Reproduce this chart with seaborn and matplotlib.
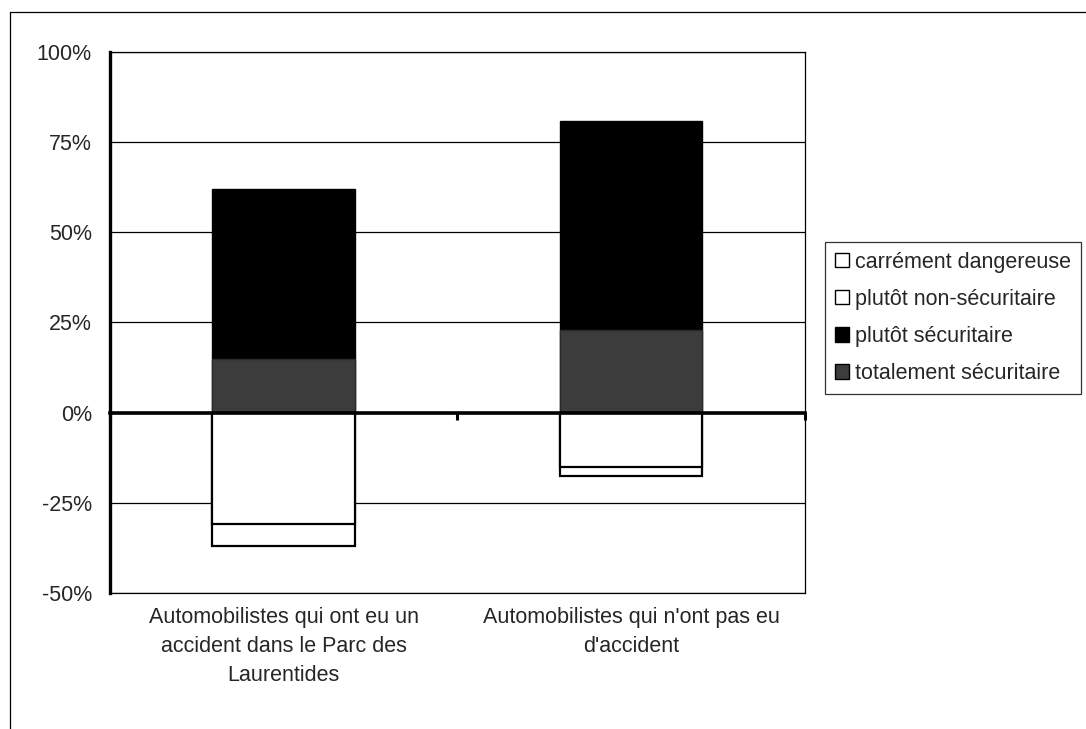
import pandas as pd
import matplotlib
matplotlib.use('Agg')
import matplotlib.pyplot as plt
from matplotlib.patches import Patch
from matplotlib.lines import Line2D
import seaborn as sns

# data (percent)
groups = ["Automobilistes qui ont eu un\naccident dans le Parc des\nLaurentides",
          "Automobilistes qui n'ont pas eu\nd'accident"]
totalement_securitaire = [15, 23]
plutot_securitaire = [47, 58]
plutot_non_securitaire = [-31, -15]
carrement_dangereuse = [-6, -2.5]
y_ticks = [-50, -25, 0, 25, 50, 75, 100]

sns.set_style("white")
plt.rcParams['font.family'] = ['Liberation Sans', 'DejaVu Sans']

df = pd.DataFrame({
    'groupe': groups,
    'tot': totalement_securitaire,
    'pos_total': [a + b for a, b in zip(totalement_securitaire, plutot_securitaire)],
    'nonsec': plutot_non_securitaire,
    'neg_total': [a + b for a, b in zip(plutot_non_securitaire, carrement_dangereuse)],
})

fig = plt.figure(figsize=(10.86, 7.29), dpi=100)
ax = fig.add_axes([0.1013, 0.1866, 0.6397, 0.7421])

for yv in y_ticks:
    ax.axhline(yv, color='black', lw=0.9, zorder=0)

w = 0.41
gray = '#3c3c3c'
# stacked by overdrawing cumulative totals
sns.barplot(data=df, x='groupe', y='pos_total', color='black', width=w,
            edgecolor='black', linewidth=1, saturation=1, ax=ax, zorder=2)
sns.barplot(data=df, x='groupe', y='tot', color=gray, width=w,
            edgecolor='#2a2a2a', linewidth=1, saturation=1, ax=ax, zorder=3)
sns.barplot(data=df, x='groupe', y='neg_total', color='white', width=w,
            edgecolor='black', linewidth=1.6, saturation=1, ax=ax, zorder=2)
sns.barplot(data=df, x='groupe', y='nonsec', color='white', width=w,
            edgecolor='black', linewidth=1.6, saturation=1, ax=ax, zorder=3)

ax.set_xlim(-0.5, 1.5)
ax.set_ylim(-50, 100)
ax.set_yticks(y_ticks)
ax.set_yticklabels([f"{v}%" for v in y_ticks], fontsize=15.5)
ax.set_xlabel('')
ax.set_ylabel('')
for lbl in ax.get_xticklabels():
    lbl.set_fontsize(15.5)
    lbl.set_linespacing(1.5)
ax.tick_params(axis='x', length=0, pad=10)
ax.tick_params(axis='y', direction='out', length=4, width=2.2, color='black', pad=9)

for s in ['top', 'right', 'bottom']:
    ax.spines[s].set_color('black')
    ax.spines[s].set_linewidth(0.9)
ax.spines['left'].set_color('black')
ax.spines['left'].set_linewidth(2.4)

# thick zero axis with category separator ticks
zero = ax.secondary_xaxis(1 / 3)
zero.set_xticks([-0.5, 0.5, 1.5])
zero.set_xticklabels([])
zero.tick_params(direction='out', length=5, width=2.2, color='black')
zero.spines['bottom'].set_linewidth(2.6)
zero.spines['bottom'].set_color('black')
zero.set_zorder(5)

handles = [
    Patch(facecolor='white', edgecolor='black', label='carrément dangereuse'),
    Patch(facecolor='white', edgecolor='black', label='plutôt non-sécuritaire'),
    Patch(facecolor='black', edgecolor='black', label='plutôt sécuritaire'),
    Patch(facecolor=gray, edgecolor='black', label='totalement sécuritaire'),
]
leg = fig.legend(handles=handles, loc='upper left', bbox_to_anchor=(0.7597, 0.668),
                 fontsize=15.5, frameon=True, fancybox=False, edgecolor='black',
                 handlelength=0.65, handleheight=0.65, handletextpad=0.3,
                 labelspacing=0.75, borderpad=0.45, borderaxespad=0)
leg.get_frame().set_linewidth(0.9)

# outer chart border
fig.add_artist(Line2D([0.0092, 1.0], [0.9835, 0.9835], color='black', lw=0.9,
                      transform=fig.transFigure))
fig.add_artist(Line2D([0.0092, 0.0092], [0.0, 0.9835], color='black', lw=0.9,
                      transform=fig.transFigure))

fig.savefig('out.png', dpi=100)
